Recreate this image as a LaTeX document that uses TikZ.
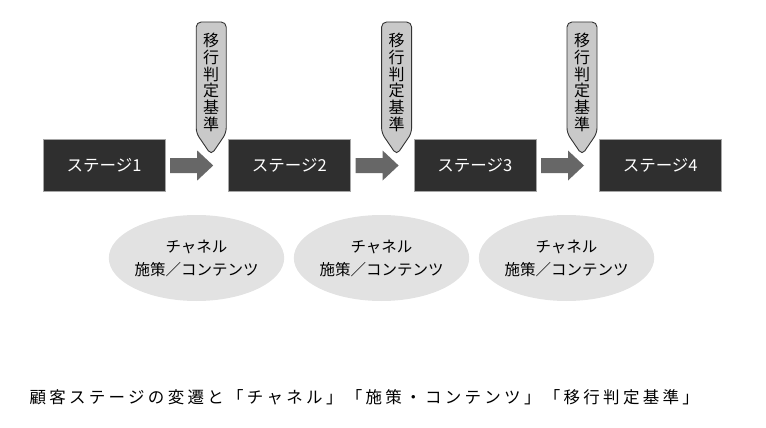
\documentclass[tikz,border=0pt]{standalone}
\usepackage{fontspec}
\newfontfamily\jpfont{Noto Sans CJK JP}
\usetikzlibrary{positioning, calc, shapes.geometric}
\definecolor{stagegray}{HTML}{2F2F2F}
\definecolor{arrowgray}{HTML}{676767}
\definecolor{taggray}{HTML}{C9C9C9}
\definecolor{chanfill}{HTML}{E2E2E2}

\begin{document}
\begin{tikzpicture}[x=1pt, y=-1pt, node distance=63pt, every node/.style={align=center, font=\jpfont\fontsize{15.5}{23}\selectfont},
    stagebox/.style={fill=stagegray, draw=gray!70, text=white, minimum width=122pt, minimum height=52pt, font=\jpfont\fontsize{16.5}{19}\selectfont},
    tagbox/.style={fill=taggray, draw=black!80, line width=0.9pt, rounded corners=5pt},
    chanbox/.style={ellipse, fill=chanfill, minimum width=154pt, minimum height=86pt, inner sep=0pt}]
        \useasboundingbox (0,0) rectangle (766,428);
        \node (stage1) [stagebox] at (104,165.5) {ステージ1};
        \node (stage2) [stagebox, right=of stage1] {ステージ2};
        \node (stage3) [stagebox, right=of stage2] {ステージ3};
        \node (stage4) [stagebox, right=of stage3] {ステージ4};
        
        % arrows between stages
        \foreach \a in {stage1, stage2, stage3}
            \fill[arrowgray] ($(\a.east)+(5,-7.5)$) -- ++(27,0) -- ++(0,-7.5) -- ++(16,15) -- ++(-16,15) -- ++(0,-7.5) -- ++(-27,0) -- cycle;
        
        % transition criteria tags
        \foreach \s/\i in {stage2/1, stage3/2, stage4/3} {
            \draw[tagbox] ($(\s.west)+(-32,-32.5)$) -- ($(\s.west)+(-32,-143.5)$) -- ($(\s.west)+(-2,-143.5)$) -- ($(\s.west)+(-2,-32.5)$) -- ($(\s.west)+(-17,-10.5)$) -- cycle;
            \node (tag\i) [font=\jpfont\fontsize{16}{16.8}\selectfont] at ($(\s.west)+(-17,-83)$) {移\\行\\判\\定\\基\\準};
        }
        
        \node (chan1) [chanbox] at (196.5,258) {チャネル\\施策／コンテンツ};
        \node (chan2) [chanbox] at (381.5,258) {チャネル\\施策／コンテンツ};
        \node (chan3) [chanbox] at (566.5,258) {チャネル\\施策／コンテンツ};
        
        \node (caption) [anchor=west, font=\jpfont\fontsize{16.5}{18}\selectfont\addfontfeature{LetterSpace=20}] at (26,397) {顧客ステージの変遷と「チャネル」「施策・コンテンツ」「移行判定基準」};
    \end{tikzpicture}
\end{document}
